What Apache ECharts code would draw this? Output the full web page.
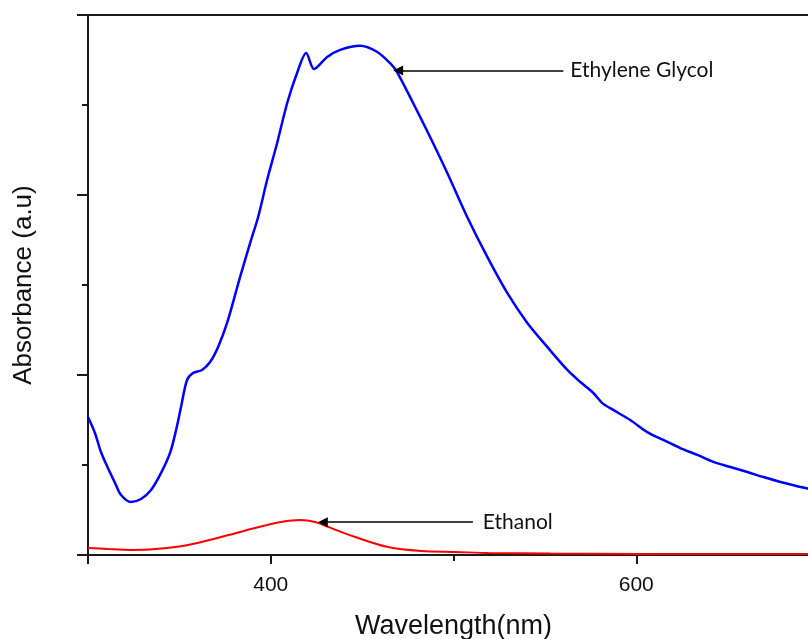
<!DOCTYPE html>
<html>
<head>
<meta charset="utf-8">
<script src="https://cdn.jsdelivr.net/npm/echarts@6/dist/echarts.min.js"></script>
<style>
  html, body { margin: 0; padding: 0; background: #fff; overflow: hidden; }
  #chart { width: 808px; height: 639px; }
</style>
</head>
<body>
<div id="chart"></div>
<script>
// UV-Vis absorbance spectra: wavelength (nm) vs absorbance (a.u.)
const glycolWavelength = [
  300, 303.8, 307.1, 310.9, 314.8, 318.1, 323.5, 329.0, 334.5, 340.0,
  344.9, 348.2, 350.9, 354.2, 357.5, 362.4, 366.8, 371.2, 376.1, 383.2,
  388.7, 393.1, 398.0, 403.5, 409.0, 414.4, 419.4, 423.7, 430.9, 438.0,
  448.9, 458.1, 465.3, 469.1, 477.9, 487.2, 496.6, 507.5, 518.5, 529.4,
  540.4, 551.3, 562.3, 569.4, 576.5, 581.4, 587.4, 596.7, 606.0, 614.8,
  624.1, 633.4, 642.2, 651.5, 660.8, 669.6, 678.9, 692.6, 700
];
const glycolAbsorbance = [
  0.767, 0.678, 0.572, 0.483, 0.400, 0.333, 0.294, 0.311, 0.361, 0.456,
  0.567, 0.694, 0.822, 0.972, 1.011, 1.028, 1.072, 1.156, 1.289, 1.544,
  1.733, 1.878, 2.083, 2.289, 2.511, 2.678, 2.789, 2.700, 2.767, 2.806,
  2.829, 2.796, 2.732, 2.683, 2.511, 2.322, 2.122, 1.878, 1.656, 1.456,
  1.289, 1.156, 1.028, 0.961, 0.900, 0.844, 0.806, 0.750, 0.683, 0.639,
  0.594, 0.556, 0.517, 0.489, 0.461, 0.433, 0.406, 0.372, 0.356
];
const ethanolWavelength = [
  300, 311, 323.5, 336.7, 354.7, 372.8, 391.4, 405.7, 416.1, 424.3,
  431.4, 446.2, 464.2, 482.3, 500.9, 519, 553, 600, 650, 700
];
const ethanolAbsorbance = [
  0.039, 0.033, 0.028, 0.033, 0.056, 0.100, 0.150, 0.183, 0.194, 0.183,
  0.156, 0.100, 0.044, 0.022, 0.017, 0.011, 0.008, 0.006, 0.005, 0.005
];
const xTickLabels = [400, 600];
const xMajorTicks = [300, 400, 600, 700];
const xMinorTicks = [500];

const pairs = (xs, ys) => xs.map((x, i) => [x, ys[i]]);

const axisColor = '#1a1a1a';
const sansFont = 'Liberation Sans';

const chart = echarts.init(document.getElementById('chart'), null, {
  renderer: 'canvas', width: 808, height: 639
});

function arrowNote(from, to, text, gap) {
  return {
    silent: true,
    animation: false,
    symbol: ['none', 'triangle'],
    symbolSize: 10,
    lineStyle: { color: '#000', width: 1.5, type: 'solid' },
    label: {
      show: true,
      position: 'start',
      distance: gap,
      formatter: text,
      color: '#111',
      fontFamily: 'Lato',
      fontSize: 21
    },
    emphasis: { disabled: true },
    data: [[{ coord: from }, { coord: to }]]
  };
}

// The plot runs past the right edge of the canvas (700 nm sits just off-screen),
// so the grid is not squeezed to keep its axes inside the container.
chart.setOption({
  animation: false,
  backgroundColor: '#fff',
  grid: {
    left: 88, top: 15, width: 731, height: 540,
    containLabel: false, outerBoundsMode: 'none'
  },
  xAxis: [
    {
      type: 'value', position: 'bottom', min: 300, max: 700,
      name: 'Wavelength(nm)', nameLocation: 'middle', nameGap: 58,
      nameTextStyle: { fontFamily: sansFont, fontSize: 27, color: '#111' },
      axisLine: { show: true, onZero: false, lineStyle: { color: axisColor, width: 2 } },
      axisTick: { show: true, inside: false, length: 9, customValues: xMajorTicks,
                  lineStyle: { color: axisColor, width: 2 } },
      axisLabel: { show: true, margin: 20, customValues: xTickLabels,
                   fontFamily: sansFont, fontSize: 21, color: '#111' },
      splitLine: { show: false }
    },
    {
      type: 'value', position: 'top', min: 300, max: 700,
      axisLine: { show: true, onZero: false, lineStyle: { color: axisColor, width: 2 } },
      axisTick: { show: false }, axisLabel: { show: false }, splitLine: { show: false }
    },
    {
      type: 'value', position: 'bottom', offset: 0, min: 300, max: 700,
      axisLine: { show: false },
      axisTick: { show: true, inside: false, length: 6, customValues: xMinorTicks,
                  lineStyle: { color: axisColor, width: 2 } },
      axisLabel: { show: false }, splitLine: { show: false }
    }
  ],
  yAxis: {
    type: 'value', min: 0, max: 3, interval: 1,
    name: 'Absorbance (a.u)', nameLocation: 'middle', nameGap: 51,
    nameTextStyle: { fontFamily: sansFont, fontSize: 26, color: '#111' },
    axisLine: { show: true, onZero: false, lineStyle: { color: axisColor, width: 2 } },
    axisTick: { show: true, inside: false, length: 11, lineStyle: { color: axisColor, width: 2 } },
    minorTick: { show: true, splitNumber: 2, length: 6, lineStyle: { color: axisColor, width: 2 } },
    axisLabel: { show: false },
    splitLine: { show: false }
  },
  series: [
    {
      name: 'Ethylene Glycol', type: 'line', xAxisIndex: 0,
      data: pairs(glycolWavelength, glycolAbsorbance),
      showSymbol: false, smooth: 0.3,
      lineStyle: { color: '#0000ff', width: 2.5 },
      itemStyle: { color: '#0000ff' },
      markLine: arrowNote([560.1, 2.691], [469.7, 2.691], 'Ethylene Glycol', 7)
    },
    {
      name: 'Ethanol', type: 'line', xAxisIndex: 0,
      data: pairs(ethanolWavelength, ethanolAbsorbance),
      showSymbol: false, smooth: 0.3,
      lineStyle: { color: '#ff0000', width: 2 },
      itemStyle: { color: '#ff0000' },
      markLine: arrowNote([510.6, 0.182], [428.5, 0.182], 'Ethanol', 10)
    }
  ]
});
</script>
</body>
</html>
